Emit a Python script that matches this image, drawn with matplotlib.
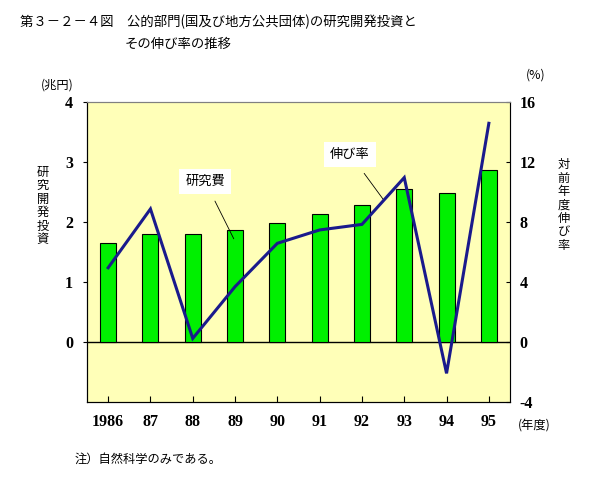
import matplotlib
matplotlib.use("Agg")
import matplotlib.pyplot as plt
import numpy as np

years = ["1986", "87", "88", "89", "90", "91", "92", "93", "94", "95"]
rd_invest = [1.65, 1.80, 1.80, 1.86, 1.98, 2.13, 2.29, 2.55, 2.49, 2.86]   # 兆円
growth = [4.95, 8.87, 0.24, 3.69, 6.58, 7.47, 7.84, 10.96, -2.09, 14.58]  # %
left_ticks = [0, 1, 2, 3, 4]
right_ticks = [-4, 0, 4, 8, 12, 16]

JP = ["Noto Sans CJK JP", "DejaVu Sans"]
NUM = {"family": "Liberation Serif", "weight": "bold", "size": 11.5}

W, H = 595, 496
fig = plt.figure(figsize=(W / 100, H / 100), dpi=100)
fig.patch.set_facecolor("white")

# axes in pixel coords: left 87, right 510, top 102, bottom 402
l, r, t, b = 87, 510, 102, 402
ax = fig.add_axes([l / W, 1 - b / H, (r - l) / W, (b - t) / H])
ax.set_facecolor("#FFFFB8")
x = np.arange(len(years))

ax.bar(x, rd_invest, width=0.38, color="#00F000", edgecolor="black", linewidth=0.8, zorder=3)
ax.axhline(0, color="black", linewidth=1.0, zorder=2)
ax.set_xlim(-0.5, len(years) - 0.5)
ax.set_ylim(-1, 4)
ax.set_yticks(left_ticks)
ax.set_yticklabels([str(v) for v in left_ticks], fontdict=NUM)
ax.tick_params(axis="y", direction="out", length=3, width=0.8, pad=7)
ax.set_xticks(x)
ax.set_xticklabels(years, fontdict=NUM)
ax.tick_params(axis="x", direction="in", length=4, width=0.8, pad=9)
for s in ["top", "right"]:
    ax.spines[s].set_color("#808080")
ax.spines["left"].set_color("black")
ax.spines["bottom"].set_color("black")

ax2 = ax.twinx()
ax2.plot(x, growth, color="#1A1A8C", linewidth=2.2, zorder=4, solid_joinstyle="miter")
ax2.set_ylim(-4, 16)
ax2.set_yticks(right_ticks)
ax2.set_yticklabels([str(v) for v in right_ticks], fontdict=NUM)
ax2.tick_params(axis="y", direction="in", length=3, width=0.8, pad=7)
ax2.spines["right"].set_color("black")
ax2.spines["top"].set_color("#808080")

# annotations
ax.annotate("研究費", xy=(2.97, 1.72), xytext=(2.29, 2.68),
            fontsize=9.5, family=JP, ha="center", va="center",
            bbox=dict(boxstyle="square,pad=0.45", fc="white", ec="none"),
            arrowprops=dict(arrowstyle="-", color="black", lw=0.6, shrinkA=6, shrinkB=0),
            zorder=6)
ax.annotate("伸び率", xy=(6.5, 2.38), xytext=(5.72, 3.13),
            fontsize=9.5, family=JP, ha="center", va="center",
            bbox=dict(boxstyle="square,pad=0.45", fc="white", ec="none"),
            arrowprops=dict(arrowstyle="-", color="black", lw=0.6, shrinkA=6, shrinkB=0),
            zorder=6)

def ftext(px, py, s, **kw):
    fig.text(px / W, 1 - py / H, s, **kw)

ftext(20, 22, "第３－２－４図　公的部門(国及び地方公共団体)の研究開発投資と",
      fontsize=9.6, family=JP, ha="left", va="center")
ftext(125, 44, "その伸び率の推移", fontsize=9.6, family=JP, ha="left", va="center")
ftext(57, 85, "(兆円)", fontsize=8.8, family=JP, ha="center", va="center")
ftext(536, 75, "(%)", fontsize=8.8, family=JP, ha="center", va="center")
ftext(43, 206, "\n".join("研究開発投資"), fontsize=8.8, family=JP, ha="center", va="center",
      linespacing=1.05)
ftext(564, 205, "\n".join("対前年度伸び率"), fontsize=8.8, family=JP, ha="center", va="center",
      linespacing=1.05)
ftext(534, 425, "(年度)", fontsize=8.8, family=JP, ha="center", va="center")
ftext(75, 459, "注）自然科学のみである。", fontsize=8.8, family=JP, ha="left", va="center")

fig.savefig("out.png", dpi=100, facecolor="white")
